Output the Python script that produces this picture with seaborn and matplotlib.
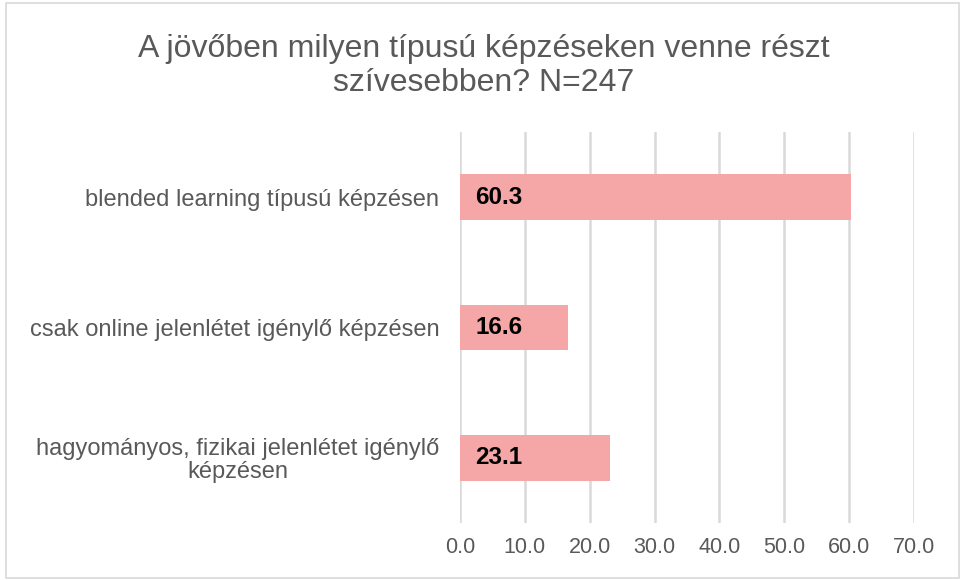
import matplotlib
matplotlib.use("Agg")
import matplotlib.pyplot as plt
import seaborn as sns
import pandas as pd
from matplotlib.patches import Rectangle

categories = [
    "blended learning típusú képzésen",
    "csak online jelenlétet igénylő képzésen",
    "hagyományos, fizikai jelenlétet igénylő\nképzésen",
]
values = [60.3, 16.6, 23.1]
xticks = [0, 10, 20, 30, 40, 50, 60, 70]
title = "A jövőben milyen típusú képzéseken venne részt\nszívesebben? N=247"

sns.set_theme(style="white")
plt.rcParams['font.family'] = ['Liberation Sans', 'DejaVu Sans']

df = pd.DataFrame({"cat": categories, "val": values})

fig = plt.figure(figsize=(9.63, 5.8), dpi=100)
ax = fig.add_axes([0.4777, 0.0983, 0.4714, 0.674])

sns.barplot(data=df, x="val", y="cat", ax=ax, color="#F4A7A6", width=0.35,
            saturation=1, edgecolor="none", zorder=3)

ax.set_xlim(0, 70)
ax.set_ylim(2.5, -0.5)
ax.set_xticks(xticks)
ax.set_xticklabels([f"{t:.1f}" for t in xticks], fontsize=15.5, color="#595959")
ax.tick_params(axis='y', labelsize=17, labelcolor="#595959", pad=15, length=0)
ax.tick_params(axis='x', length=0, pad=10)
for lbl in ax.get_yticklabels():
    lbl.set_multialignment('center')
    lbl.set_linespacing(1.05)
ax.set_xlabel("")
ax.set_ylabel("")
ax.grid(axis='x', color="#D9D9D9", linewidth=1.8, zorder=0)
for s in ax.spines.values():
    s.set_visible(False)

for i, v in enumerate(values):
    ax.text(2.4, i, f"{v:.1f}", va="center", ha="left", fontsize=17.5,
            fontweight="bold", color="black", zorder=4)

fig.text(0.502, 0.886, title, ha="center", va="center", fontsize=23,
         color="#595959", linespacing=1.15)

fig.patches.append(Rectangle((0.006, 0.004), 0.99, 0.99, transform=fig.transFigure,
                             fill=False, edgecolor="#D9D9D9", linewidth=1.2))

fig.savefig("out.png", dpi=100)
